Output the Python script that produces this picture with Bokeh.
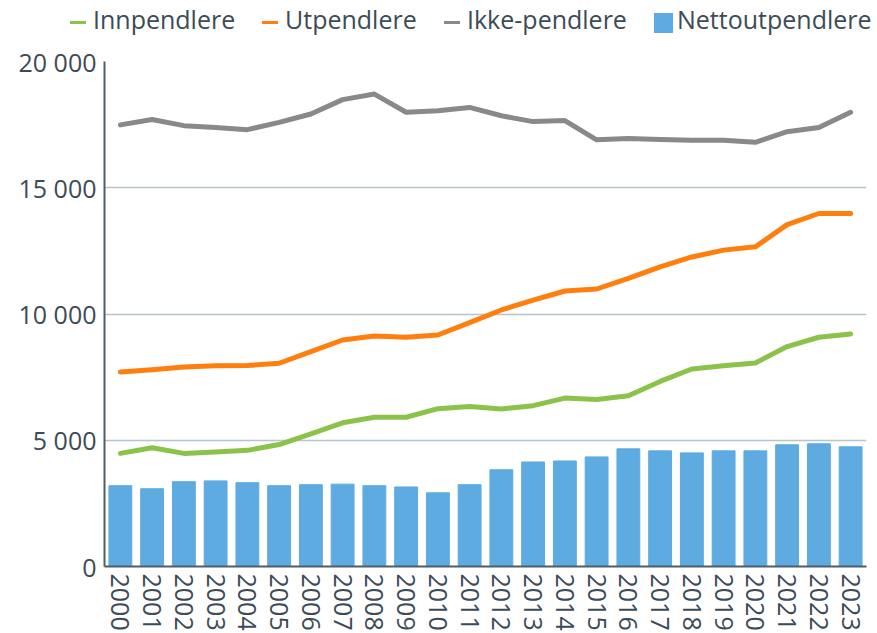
import math
from bokeh.plotting import figure
from bokeh.layouts import column
from bokeh.models import FactorRange, FixedTicker, CustomJSTickFormatter, ColumnDataSource, Div
from bokeh.embed import file_html
from bokeh.resources import INLINE

years = ["2000", "2001", "2002", "2003", "2004", "2005", "2006", "2007", "2008", "2009",
         "2010", "2011", "2012", "2013", "2014", "2015", "2016", "2017", "2018", "2019",
         "2020", "2021", "2022", "2023"]
innpendlere = [4480, 4700, 4480, 4530, 4600, 4830, 5250, 5690, 5910, 5910, 6250, 6340,
               6240, 6370, 6670, 6610, 6760, 7330, 7820, 7950, 8060, 8710, 9080, 9210]
utpendlere = [7700, 7790, 7900, 7950, 7960, 8050, 8510, 8970, 9130, 9080, 9170, 9660,
              10160, 10550, 10910, 10990, 11410, 11870, 12260, 12530, 12660, 13540, 13980, 13980]
ikke_pendlere = [17490, 17700, 17460, 17390, 17300, 17590, 17920, 18490, 18710, 17990, 18050, 18180,
                 17850, 17620, 17660, 16900, 16950, 16910, 16880, 16880, 16800, 17220, 17390, 17990]
nettoutpendlere = [3200, 3080, 3360, 3390, 3320, 3200, 3240, 3260, 3200, 3150, 2920, 3240,
                   3830, 4140, 4180, 4340, 4660, 4580, 4500, 4580, 4580, 4820, 4860, 4740]
y_ticks = [0, 5000, 10000, 15000, 20000]
series_names = ["Innpendlere", "Utpendlere", "Ikke-pendlere", "Nettoutpendlere"]

TEXT = "#3c4b57"
FONT = "Open Sans"
C_INN, C_UT, C_IKKE, C_NETTO = "#8bc34a", "#ff7f0e", "#898989", "#5dabe0"
series_colors = [C_INN, C_UT, C_IKKE, C_NETTO]
series_kind = ["line", "line", "line", "bar"]

LEG_H = 40
src = ColumnDataSource(dict(year=years, inn=innpendlere, ut=utpendlere,
                            ikke=ikke_pendlere, netto=nettoutpendlere))

# ---- legend strip (HTML) ----
item_left = [70, 262, 444, 654]
parts = []
for name, colr, kind, left in zip(series_names, series_colors, series_kind, item_left):
    if kind == "line":
        sw = (f'<span style="position:absolute;left:0;top:19px;width:16px;height:3px;'
              f'background:{colr};"></span>')
        tx = 23
    else:
        sw = (f'<span style="position:absolute;left:0;top:11px;width:19px;height:20px;'
              f'background:{colr};"></span>')
        tx = 23
    parts.append(
        f'<div style="position:absolute;left:{left}px;top:2px;height:34px;white-space:nowrap;">'
        f'{sw}<span style="position:absolute;left:{tx}px;top:0;line-height:34px;'
        f'font-family:\'{FONT}\';font-size:25px;color:{TEXT};">{name}</span></div>')
legend_html = ('<div style="position:relative;width:877px;height:40px;">' + "".join(parts) + '</div>')
leg = Div(text=legend_html, width=877, height=LEG_H, margin=0)

# ---- main chart ----
p = figure(width=877, height=633 - LEG_H, x_range=FactorRange(factors=years), y_range=(0, 20000),
           output_backend="svg", toolbar_location=None,
           min_border_left=104, min_border_right=11, min_border_top=61 - LEG_H, min_border_bottom=66)

p.vbar(x="year", top="netto", width=0.72, source=src, color=C_NETTO)
for col, c in (("inn", C_INN), ("ut", C_UT), ("ikke", C_IKKE)):
    p.line(x="year", y=col, source=src, line_color=c, line_width=5,
           line_cap="round", line_join="round")

p.outline_line_color = None
p.xgrid.grid_line_color = None
p.ygrid.grid_line_color = "#b8c4cc"
p.ygrid.grid_line_width = 1.5

p.yaxis.ticker = FixedTicker(ticks=y_ticks)
p.yaxis.formatter = CustomJSTickFormatter(code="return tick.toString().replace(/\\B(?=(\\d{3})+(?!\\d))/g, ' ');")
for ax in (p.xaxis[0], p.yaxis[0]):
    ax.axis_line_color = "#4f5d69"
    ax.axis_line_width = 2
    ax.major_tick_line_color = None
    ax.minor_tick_line_color = None
    ax.major_tick_out = 0
    ax.major_tick_in = 0
    ax.major_label_text_color = TEXT
    ax.major_label_text_font = FONT
p.yaxis.major_label_text_font_size = "25px"
p.yaxis.major_label_standoff = 8
p.xaxis.major_label_text_font_size = "25px"
p.xaxis.major_label_orientation = -math.pi / 2
p.xaxis.major_label_standoff = 7

layout = column(leg, p, spacing=0)
open("out.html", "w").write(file_html(layout, INLINE))
